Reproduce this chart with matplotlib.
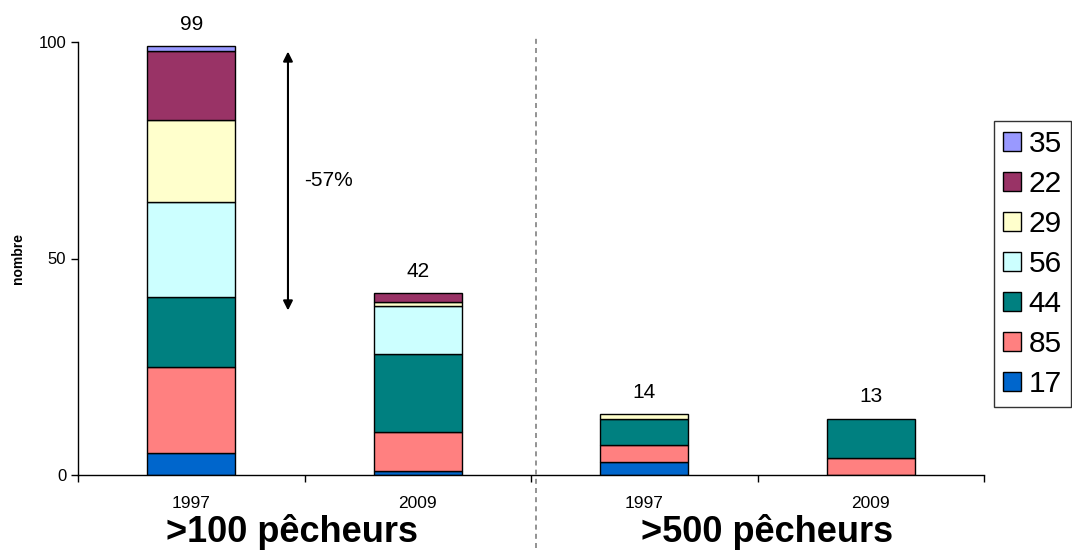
import matplotlib
matplotlib.use("Agg")
import matplotlib.pyplot as plt
from matplotlib.lines import Line2D
import numpy as np

plt.rcParams['font.family'] = ['Liberation Sans', 'DejaVu Sans']

# Data: number of sites per department, stacked by department code
categories = ['1997', '2009', '1997', '2009']
groups = ['>100 pêcheurs', '>500 pêcheurs']
dept_17 = [5, 1, 3, 0]
dept_85 = [20, 9, 4, 4]
dept_44 = [16, 18, 6, 9]
dept_56 = [22, 11, 0, 0]
dept_29 = [19, 1, 1, 0]
dept_22 = [16, 2, 0, 0]
dept_35 = [1, 0, 0, 0]
change_label = '-57%'

series = [('17', dept_17, '#0066CC'),
          ('85', dept_85, '#FF8080'),
          ('44', dept_44, '#008080'),
          ('56', dept_56, '#CCFFFF'),
          ('29', dept_29, '#FFFFCC'),
          ('22', dept_22, '#993366'),
          ('35', dept_35, '#9999FF')]

W, H = 1072, 552
fig = plt.figure(figsize=(W / 100, H / 100), dpi=100)
ax = fig.add_axes([78 / W, 1 - 475 / H, 906 / W, 433 / H])

x = np.arange(len(categories)) + 0.5
bottom = np.zeros(len(categories))
handles = []
for name, vals, color in series:
    vals = np.array(vals, dtype=float)
    mask = vals > 0
    ax.bar(x[mask], vals[mask], bottom=bottom[mask], width=0.39,
           color=color, edgecolor='black', linewidth=1.0, zorder=2)
    handles.append(plt.Rectangle((0, 0), 1, 1, facecolor=color,
                                 edgecolor='black', linewidth=1.0, label=name))
    bottom += vals

for xi, tot in zip(x, bottom):
    ax.annotate(f'{int(tot)}', (xi, tot), xytext=(0, 9), textcoords='offset points',
                ha='center', va='bottom', fontsize=15)

ax.set_xlim(0, 4)
ax.set_ylim(0, 100)
ax.set_yticks([0, 50, 100])
ax.tick_params(axis='y', labelsize=12, length=5, width=1, direction='out')
ax.set_xticks(x)
ax.set_xticklabels(categories, fontsize=12.5)
ax.tick_params(axis='x', length=0, pad=15)
ax.set_xticks(np.arange(0, 5), minor=True)
ax.tick_params(axis='x', which='minor', length=5, width=1, direction='out')
for side in ['top', 'right']:
    ax.spines[side].set_visible(False)
for side in ['left', 'bottom']:
    ax.spines[side].set_linewidth(1.0)

ax.set_ylabel('nombre', fontsize=10, fontweight='bold')
ax.yaxis.set_label_coords(-(78 - 25) / 906, (475 - 258) / 433)

# Change arrow between the two first bars
ax.annotate('', xy=(0.927, 97.8), xytext=(0.927, 38.0),
            arrowprops=dict(arrowstyle='<|-|>', color='black', lw=1.5,
                            mutation_scale=14, shrinkA=0, shrinkB=0))
ax.text(1.0, 68, change_label, fontsize=15, ha='left', va='center')

# Separator between the two groups
fig.add_artist(Line2D([536 / W, 536 / W], [1 - 548 / H, 1 - 38 / H],
                      transform=fig.transFigure, color='#808080', lw=1.2,
                      linestyle=(0, (3, 2.5))))

# Group labels under each pair of bars
for px, g in zip([292, 767], groups):
    fig.text(px / W, 1 - 532 / H, g, ha='center', va='center',
             fontsize=26, fontweight='bold')

leg = fig.legend(handles=handles[::-1], loc='upper right',
                 bbox_to_anchor=(1071 / W, 1 - 121 / H),
                 fontsize=21.5, frameon=True, fancybox=False, edgecolor='black',
                 handlelength=0.6, handleheight=0.6, handletextpad=0.25,
                 labelspacing=0.40, borderpad=0.3, borderaxespad=0)
leg.get_frame().set_linewidth(1.0)

fig.savefig('out.png', dpi=100)
